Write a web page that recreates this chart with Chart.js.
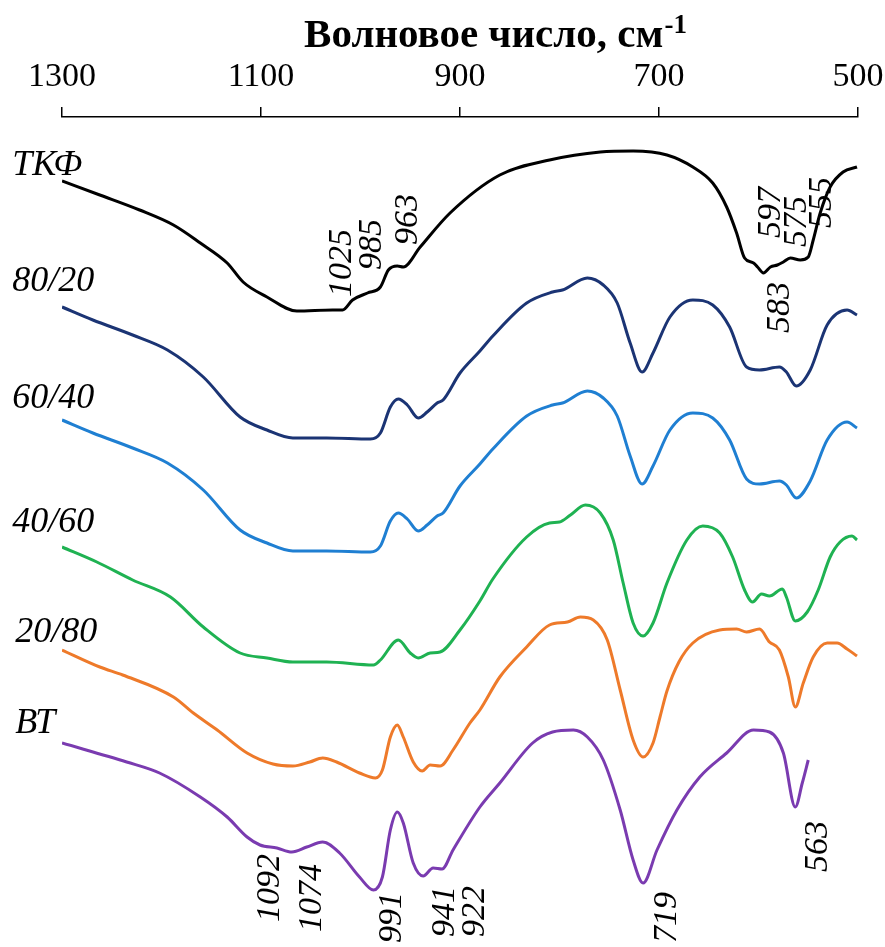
<!DOCTYPE html>
<html>
<head>
<meta charset="utf-8">
<script src="https://cdn.jsdelivr.net/npm/chart.js@4/dist/chart.umd.min.js"></script>
<style>
  html, body { margin: 0; padding: 0; background: #ffffff; }
  #wrap { width: 885px; height: 947px; position: relative; }
</style>
</head>
<body>
<div id="wrap"><canvas id="c"></canvas></div>
<script>
// ---- Tick labels / axis ----
const xTicks = [500, 700, 900, 1100, 1300];
const axisTitle = "Волновое число, см";
const axisTitleSup = "-1";

// ---- Series names ----
const seriesNames = ["ТКФ", "80/20", "60/40", "40/60", "20/80", "ВТ"];

// ---- ТКФ ----
const tkfWn = [1300,1262,1222,1188,1161,1134,1118,1094,1064,1028,1018,1008,993,980,972,963,957,940,910,860,810,759,726,692,666,646,632,622,614,605,601,595,588,581,575,568,558,550,545,538,528,515,501];
const tkfT  = [76.6,75.2,73.7,72.2,70.4,68.4,66.5,65.0,63.6,63.7,63.7,64.7,65.4,66.0,67.7,68.1,68.0,70.0,73.4,77.2,78.7,79.5,79.6,79.2,78.0,76.4,74.0,71.4,68.9,68.4,68.0,67.4,68.0,68.2,68.5,68.9,68.7,69.0,70.7,73.4,76.0,77.5,78.0];

// ---- 80/20 and 60/40 (same wavenumber grid) ----
const mixWn = [1300,1269,1229,1194,1158,1121,1094,1068,1034,990,980,970,962,953,942,933,923,917,900,880,867,833,807,797,772,756,742,729,717,706,689,666,646,629,612,599,579,572,562,548,531,511,501];
const s8020T = [64.0,62.7,61.2,59.7,57.0,53.0,51.7,50.9,50.9,50.8,51.4,54.0,54.8,54.2,52.9,53.5,54.4,54.7,57.4,59.6,61.1,64.4,65.5,65.7,66.9,66.2,64.4,60.4,57.5,59.4,63.0,64.7,64.2,62.0,58.0,57.7,58.0,57.5,56.1,57.7,62.2,63.7,63.2];
const s6040T = [52.7,51.4,49.9,48.4,45.7,41.7,40.4,39.6,39.6,39.5,40.1,42.6,43.4,42.8,41.6,42.2,43.1,43.4,46.1,48.3,49.8,53.1,54.2,54.4,55.6,54.9,53.1,49.1,46.3,48.1,51.7,53.4,52.9,50.7,46.8,46.3,46.6,46.2,44.9,46.6,50.7,52.5,51.9];

// ---- 40/60 ----
const s4060Wn = [1300,1265,1229,1191,1158,1121,1094,1068,1034,987,980,962,950,942,930,920,900,880,867,833,810,800,789,774,759,746,736,726,716,706,692,672,656,639,626,614,606,597,589,576,572,563,551,540,528,518,506,501];
const s4060T  = [40.0,38.5,36.7,35.0,32.0,29.4,28.9,28.5,28.5,28.2,28.7,30.7,29.4,28.9,29.4,29.5,31.7,34.6,36.8,41.0,42.4,42.5,43.2,44.2,43.4,40.7,36.4,32.4,31.1,32.4,36.4,40.7,42.1,41.4,39.0,35.7,34.5,35.3,35.1,35.8,35.0,32.6,33.5,35.7,39.0,40.5,41.1,40.7];

// ---- 20/80 ----
const s2080Wn = [1300,1262,1239,1188,1168,1144,1114,1088,1068,1051,1038,1024,1001,985,978,970,963,957,947,938,930,920,907,890,880,860,833,810,792,779,766,752,739,726,716,706,699,692,680,666,639,622,612,599,589,579,570,563,555,545,531,521,511,501];
const s2080T  = [29.7,28.0,27.2,25.0,23.4,21.7,19.4,18.3,18.1,18.5,18.9,18.5,17.4,16.9,17.7,21.0,22.2,21.0,18.5,17.6,18.2,18.1,19.7,22.4,23.7,27.0,30.0,32.2,32.5,33.0,32.7,30.7,25.7,20.7,19.0,20.4,23.0,25.6,28.5,30.4,31.7,31.8,31.5,31.8,30.5,29.7,27.0,24.0,26.4,29.0,30.4,30.4,29.8,29.1];

// ---- ВТ ----
const btWn = [1300,1235,1202,1161,1134,1114,1101,1084,1069,1054,1038,1021,1001,987,978,970,963,957,947,937,927,918,907,880,860,827,807,786,772,756,739,726,716,702,682,659,632,605,589,575,563,556,550];
const btT  = [20.4,18.5,17.4,15.0,13.0,11.0,10.2,9.9,9.5,10.0,10.5,9.4,7.0,5.7,7.0,11.7,13.5,12.4,8.4,7.1,7.9,7.8,9.7,14.0,16.4,20.4,21.5,21.7,21.0,18.7,13.7,8.7,6.4,9.7,13.7,17.0,19.4,21.7,21.5,19.4,14.0,16.4,18.7];

// ---- Peak annotation texts ----
const peakLabels = ["1025","985","963","597","575","555","583","1092","1074","991","941","922","719","563"];

// ---------------- build ----------------
function pts(wn, t) { return wn.map((w, i) => ({ x: w, y: t[i] })); }

const colors = ["#000000", "#1b3474", "#1f7fd2", "#1fb252", "#ee7a2a", "#7a3bb0"];
const series = [
  pts(tkfWn, tkfT), pts(mixWn, s8020T), pts(mixWn, s6040T),
  pts(s4060Wn, s4060T), pts(s2080Wn, s2080T), pts(btWn, btT)
];

const datasets = series.map((d, i) => ({
  label: seriesNames[i],
  data: d,
  borderColor: colors[i],
  borderWidth: 3,
  pointRadius: 0,
  fill: false,
  cubicInterpolationMode: 'monotone'
}));

// placement of texts (styling only)
const nameAnchors = [[1350, 77.2],[1350, 65.6],[1350, 53.9],[1350, 41.5],[1347, 30.5],[1347, 21.4]];
const peakAnchors = [[1019,65.0],[988,67.7],[952,70.2],[587,70.9],[561,70.0],[536,71.9],[578,61.4],
                     [1091,2.5],[1049,1.5],[968,0.4],[915,1.0],[885,1.0],[692,0.4],[540,7.5]];

const textPlugin = {
  id: 'texts',
  afterDraw(chart) {
    const ctx = chart.ctx;
    const xs = chart.scales.x, ys = chart.scales.y;
    ctx.save();
    ctx.fillStyle = '#000';
    // title
    ctx.font = 'bold 41px "Liberation Serif"';
    ctx.textBaseline = 'alphabetic';
    ctx.textAlign = 'left';
    const w1 = ctx.measureText(axisTitle).width;
    ctx.font = 'bold 27px "Liberation Serif"';
    const w2 = ctx.measureText(axisTitleSup).width;
    const tx = 495 - (w1 + w2) / 2;
    ctx.font = 'bold 41px "Liberation Serif"';
    ctx.fillText(axisTitle, tx, 47);
    ctx.font = 'bold 27px "Liberation Serif"';
    ctx.fillText(axisTitleSup, tx + w1 + 1, 33);
    // series names
    ctx.font = 'italic 36px "Liberation Serif"';
    seriesNames.forEach((n, i) => {
      const [wx, wy] = nameAnchors[i];
      ctx.fillText(n, xs.getPixelForValue(wx), ys.getPixelForValue(wy));
    });
    // peak labels (rotated)
    ctx.font = 'italic 34px "Liberation Serif"';
    ctx.textBaseline = 'middle';
    peakLabels.forEach((p, i) => {
      const [wx, wy] = peakAnchors[i];
      ctx.save();
      ctx.translate(xs.getPixelForValue(wx), ys.getPixelForValue(wy));
      ctx.rotate(-Math.PI / 2);
      ctx.fillText(p, 0, 0);
      ctx.restore();
    });
    ctx.restore();
  }
};

new Chart(document.getElementById('c'), {
  type: 'line',
  data: { datasets },
  options: {
    responsive: true,
    maintainAspectRatio: false,
    animation: false,
    events: [],
    layout: { padding: { left: 62, right: 27, top: 0, bottom: 0 } },
    plugins: { legend: { display: false }, tooltip: { enabled: false }, title: { display: false } },
    scales: {
      x: {
        type: 'linear',
        position: 'top',
        reverse: true,
        min: 500,
        max: 1300,
        afterFit(scale) { scale.height = 117; scale.paddingLeft = 0; scale.paddingRight = 0; },
        afterBuildTicks(scale) { scale.ticks = xTicks.map(v => ({ value: v })); },
        ticks: {
          color: '#000',
          padding: 10,
          maxRotation: 0,
          autoSkip: false,
          callback: (v) => String(v),
          font: { family: '"Liberation Serif"', size: 34 }
        },
        grid: { drawOnChartArea: false, drawTicks: true, tickLength: 10, color: '#000', lineWidth: 1.5 },
        border: { display: true, color: '#000', width: 1.5 }
      },
      y: {
        type: 'linear',
        display: false,
        min: 0,
        max: 83
      }
    }
  },
  plugins: [textPlugin]
});
</script>
</body>
</html>
